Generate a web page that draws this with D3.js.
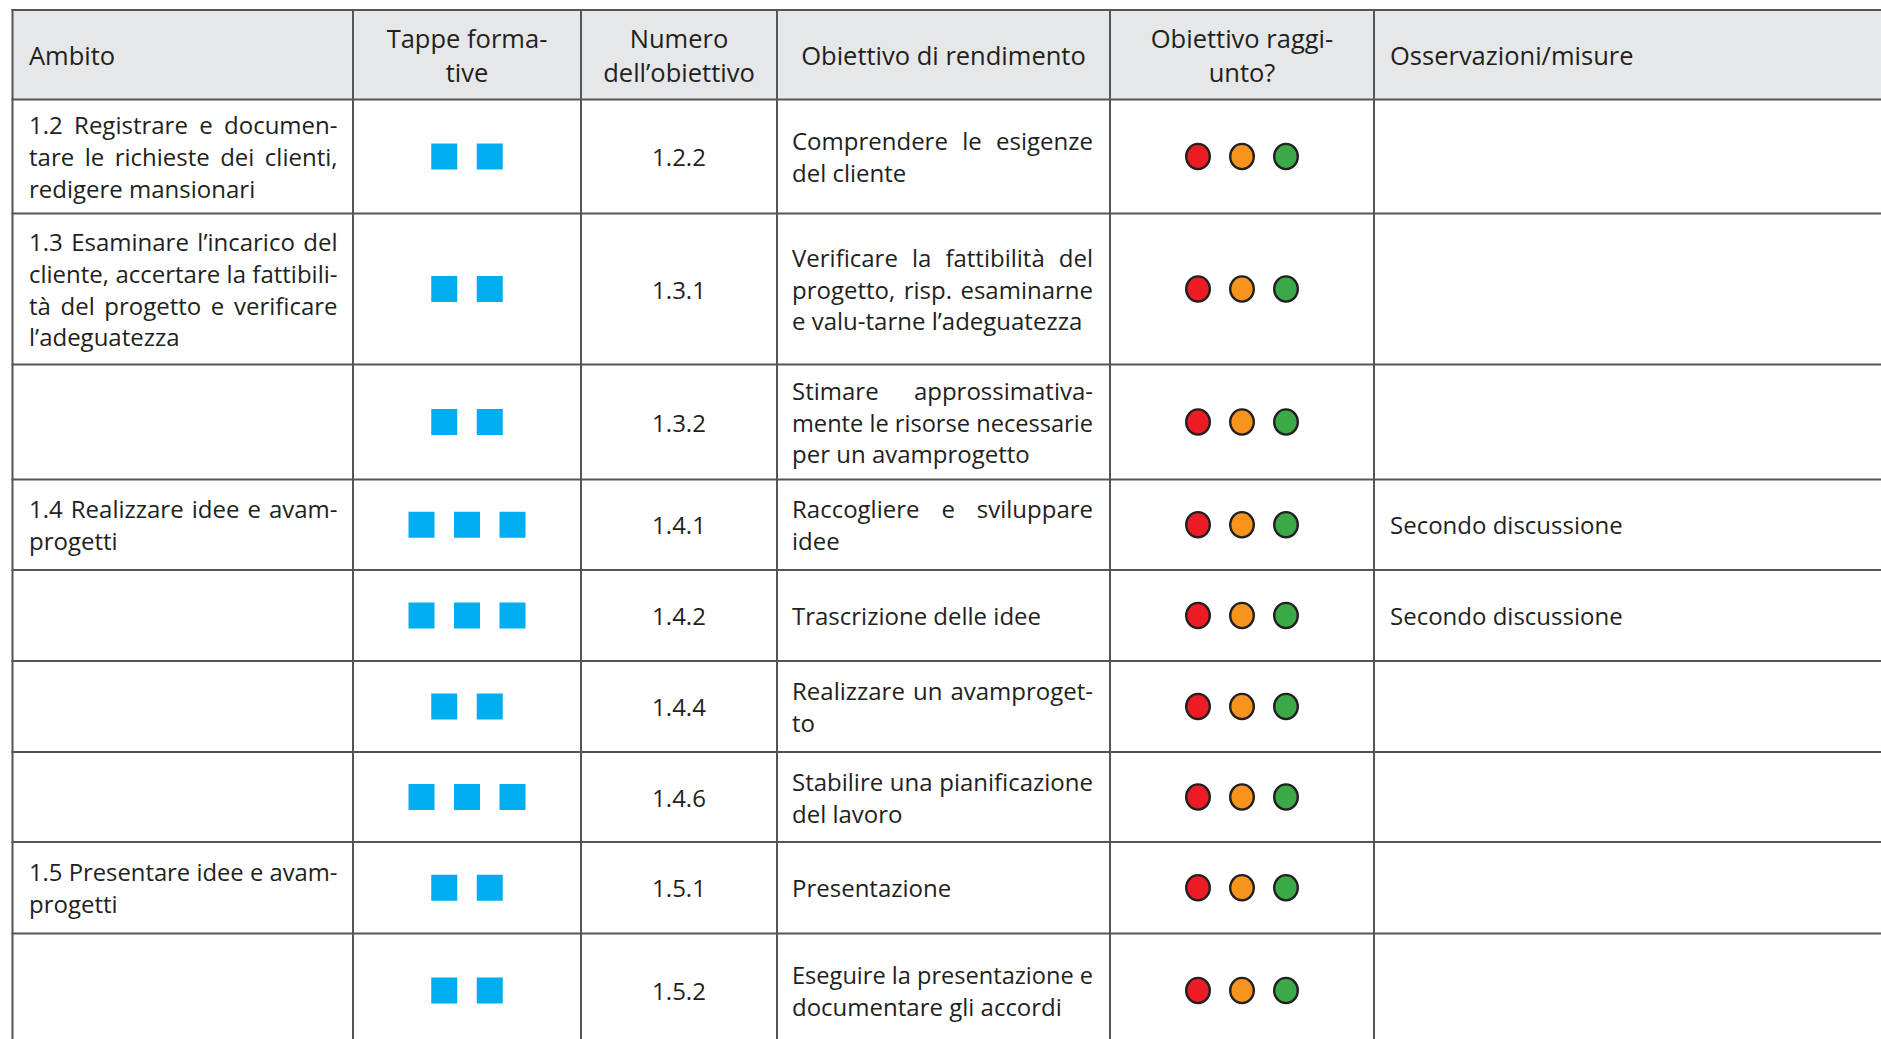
<!DOCTYPE html>
<html>
<head>
<meta charset="utf-8">
<script src="https://cdnjs.cloudflare.com/ajax/libs/d3/7.8.5/d3.min.js"></script>
<style>
  html, body { margin: 0; padding: 0; background: #ffffff; }
  svg { display: block; }
  text { font-family: "Open Sans", "Noto Sans", sans-serif; fill: #231f20; }
</style>
</head>
<body>
<svg id="chart" width="1881" height="1039"></svg>
<script>
// ---------- DATA ----------
const headers = [
  ["Ambito"],
  ["Tappe forma-", "tive"],
  ["Numero", "dell’obiettivo"],
  ["Obiettivo di rendimento"],
  ["Obiettivo raggi-", "unto?"],
  ["Osservazioni/misure"]
];
const ambito = [
  ["1.2 Registrare e documen-", "tare le richieste dei clienti,", "redigere mansionari"],
  ["1.3 Esaminare l’incarico del", "cliente, accertare la fattibili-", "tà del progetto e verificare", "l’adeguatezza"],
  [],
  ["1.4 Realizzare idee e avam-", "progetti"],
  [],
  [],
  [],
  ["1.5 Presentare idee e avam-", "progetti"],
  []
];
const tappe = [2, 2, 2, 3, 3, 2, 3, 2, 2];
const numero = ["1.2.2", "1.3.1", "1.3.2", "1.4.1", "1.4.2", "1.4.4", "1.4.6", "1.5.1", "1.5.2"];
const obiettivo = [
  ["Comprendere le esigenze", "del cliente"],
  ["Verificare la fattibilità del", "progetto, risp. esaminarne", "e valu-tarne l’adeguatezza"],
  ["Stimare approssimativa-", "mente le risorse necessarie", "per un avamprogetto"],
  ["Raccogliere e sviluppare", "idee"],
  ["Trascrizione delle idee"],
  ["Realizzare un avamproget-", "to"],
  ["Stabilire una pianificazione", "del lavoro"],
  ["Presentazione"],
  ["Eseguire la presentazione e", "documentare gli accordi"]
];
const semaforo = ["rosso", "arancione", "verde"];
const osservazioni = ["", "", "", "Secondo discussione", "Secondo discussione", "", "", "", ""];

// ---------- LAYOUT ----------
const W = 1881, H = 1039;
const colX = [12.5, 353, 581, 777, 1110, 1374, 1905];
const tableTop = 10, headerH = 89.5;
const rowH = [114, 151, 115, 90.5, 91, 91, 90, 91.5, 114];
const lineH = 31.8, lineHHead = 34.2;
const fs = 24, fsHead = 25.5;
const sqSize = 26, sqPitch = 45.5;
const dotPitch = 44, dotRx = 11.8, dotRy = 12.6;
const dotColor = d3.scaleOrdinal().domain(semaforo).range(["#ed1c24", "#f7941d", "#3aaa48"]);
const lineColor = "#555557";

const svg = d3.select("#chart");
svg.append("rect").attr("width", W).attr("height", H).attr("fill", "#fff");

const rowTops = [tableTop + headerH];
rowH.forEach((h, i) => rowTops.push(rowTops[i] + h));
const rowIdx = d3.range(rowH.length);
const yCenter = i => rowTops[i] + rowH[i] / 2;
const colCenter = c => (colX[c] + colX[c + 1]) / 2;

// header background
svg.append("rect")
  .attr("x", colX[0]).attr("y", tableTop)
  .attr("width", colX[6] - colX[0]).attr("height", headerH)
  .attr("fill", "#e6e7e8");

// multi-line block drawn as one text element (tspans), with justification
function drawLines(g, lines, x0, x1, cy, opts) {
  const n = lines.length;
  if (!n) return;
  const size = opts.size || fs;
  const lh = opts.lineH || lineH;
  const baseOff = size * 0.4;
  const center = opts.align === "center";
  const t = g.append("text").style("font-size", size + "px");
  if (center) t.attr("text-anchor", "middle");
  lines.forEach((line, i) => {
    const y = cy + (i - (n - 1) / 2) * lh + baseOff;
    const ts = t.append("tspan")
      .attr("x", center ? (x0 + x1) / 2 : x0)
      .attr("y", y)
      .text(line);
    if (center) return;
    const w = ts.node().getComputedTextLength();
    const avail = x1 - x0;
    const isLast = i === n - 1;
    if (w > avail) {
      ts.attr("textLength", avail).attr("lengthAdjust", "spacingAndGlyphs");
    } else if (opts.justify && !isLast) {
      const gaps = (line.match(/ /g) || []).length;
      if (gaps) ts.style("word-spacing", ((avail - w) / gaps) + "px");
    }
  });
}

const gText = svg.append("g");

// header texts
const headCy = tableTop + headerH / 2;
headers.forEach((lines, c) => {
  const o = { size: fsHead, lineH: lineHHead };
  if (c === 0) drawLines(gText, lines, 29, 338, headCy, o);
  else if (c === 5) drawLines(gText, lines, 1390, 1860, headCy, o);
  else drawLines(gText, lines, colX[c], colX[c + 1], headCy, Object.assign({ align: "center" }, o));
});

// body
rowIdx.forEach(i => {
  const cy = yCenter(i);
  drawLines(gText, ambito[i], 29, 337.5, cy, { justify: true });
  drawLines(gText, [numero[i]], colX[2], colX[3], cy, { align: "center" });
  drawLines(gText, obiettivo[i], 792, 1093, cy, { justify: true });
  if (osservazioni[i]) drawLines(gText, [osservazioni[i]], 1390, 1860, cy, {});
});

// squares (tappe formative)
const gSq = svg.append("g");
rowIdx.forEach(i => {
  const n = tappe[i];
  const xs = d3.scaleLinear().domain([0, n - 1 || 1]).range([colCenter(1) - (n - 1) / 2 * sqPitch, colCenter(1) + (n - 1) / 2 * sqPitch]);
  gSq.selectAll(null).data(d3.range(n)).enter().append("rect")
    .attr("x", k => xs(k) - sqSize / 2)
    .attr("y", yCenter(i) - sqSize / 2)
    .attr("width", sqSize).attr("height", sqSize)
    .attr("fill", "#00aeef");
});

// traffic-light dots
const dotX = d3.scalePoint().domain(semaforo).range([colCenter(4) - dotPitch, colCenter(4) + dotPitch]);
const gDot = svg.append("g");
rowIdx.forEach(i => {
  gDot.selectAll(null).data(semaforo).enter().append("ellipse")
    .attr("cx", d => dotX(d))
    .attr("cy", yCenter(i))
    .attr("rx", dotRx).attr("ry", dotRy)
    .attr("fill", d => dotColor(d))
    .attr("stroke", "#231f20").attr("stroke-width", 2.4);
});

// grid lines
const gGrid = svg.append("g").attr("stroke", lineColor).attr("stroke-width", 2).attr("fill", "none");
[tableTop].concat(rowTops).forEach(y => {
  gGrid.append("line").attr("x1", colX[0] - 1).attr("x2", W + 5).attr("y1", y).attr("y2", y);
});
colX.slice(0, 6).forEach(x => {
  gGrid.append("line").attr("x1", x).attr("x2", x).attr("y1", tableTop - 1).attr("y2", H + 5);
});
</script>
</body>
</html>
